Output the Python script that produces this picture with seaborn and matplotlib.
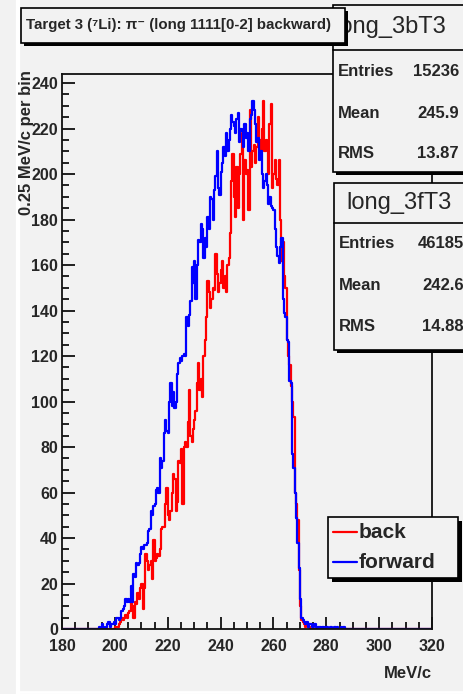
import numpy as np
import pandas as pd
import seaborn as sns
import matplotlib.pyplot as plt
from matplotlib.patches import Rectangle
from matplotlib.lines import Line2D
from matplotlib.ticker import MultipleLocator

# histogram contents, 0.5 MeV/c steps (left edges given by the start values)
fwd_start = 193.0
fwd_counts = [0, 0, 1, 0, 2, 1, 0, 1, 2, 3, 1, 2, 2, 3, 2, 5, 5, 4, 5, 8,
              9, 10, 13, 12, 13, 12, 19, 12, 24, 23, 29, 28, 29, 33, 36, 35, 37, 37, 38, 43,
              44, 52, 50, 54, 55, 61, 62, 60, 75, 71, 74, 86, 92, 87, 86, 100, 108, 98, 104, 97,
              100, 112, 117, 119, 118, 120, 121, 120, 137, 133, 138, 144, 159, 152, 162, 145, 160, 171, 170, 178,
              176, 163, 172, 168, 181, 176, 190, 189, 180, 193, 199, 210, 194, 191, 201, 205, 212, 208, 218, 210,
              215, 220, 226, 223, 221, 218, 224, 227, 214, 220, 219, 212, 222, 216, 218, 210, 224, 226, 232, 228,
              222, 214, 216, 206, 210, 200, 194, 197, 200, 195, 187, 190, 186, 185, 184, 176, 168, 164, 161, 168,
              172, 145, 139, 137, 127, 126, 109, 108, 77, 71, 60, 49, 38, 27, 13, 5, 4, 3, 2, 3,
              1, 2, 2, 1, 1, 2, 1, 0, 1, 1, 0, 1, 0, 1, 1, 0, 0, 1, 0, 0,
              1, 0, 1, 0, 0, 1, 0, 1]

back_start = 199.0
back_counts = [0, 0, 1, 1, 1, 2, 3, 5, 4, 5, 6, 5, 7, 8, 13, 10, 5, 12, 11, 16,
               13, 18, 20, 9, 18, 33, 30, 26, 28, 30, 22, 39, 30, 31, 33, 32, 35, 44, 45, 45,
               55, 62, 50, 48, 52, 60, 68, 66, 52, 56, 74, 73, 79, 55, 80, 82, 80, 91, 105, 85,
               82, 88, 92, 96, 108, 117, 105, 110, 102, 120, 127, 137, 153, 148, 141, 145, 150, 149, 165, 156,
               148, 152, 158, 162, 150, 155, 148, 160, 163, 174, 197, 209, 190, 181, 203, 185, 200, 209, 218, 180,
               206, 200, 202, 184, 228, 203, 210, 213, 205, 212, 225, 215, 210, 220, 232, 210, 215, 212, 200, 222,
               231, 194, 200, 206, 198, 195, 206, 180, 162, 170, 155, 150, 127, 120, 116, 107, 100, 93, 60, 55,
               48, 26, 10, 4, 3, 2, 1, 2, 1, 1, 0]

bin_w = 0.5
x_lo, x_hi = 180, 320
n_bins = int(round((x_hi - x_lo) / bin_w))
centers = x_lo + bin_w * (np.arange(n_bins) + 0.5)


def full_counts(start, counts):
    out = np.zeros(n_bins)
    i0 = int(round((start - x_lo) / bin_w))
    out[i0:i0 + len(counts)] = counts
    return out


df = pd.DataFrame({
    'p': np.concatenate([centers, centers]),
    'n': np.concatenate([full_counts(back_start, back_counts), full_counts(fwd_start, fwd_counts)]),
    'set': ['back'] * n_bins + ['forward'] * n_bins,
})

W, H = 463, 694
bg = '#f2f2f2'
sns.set_style('ticks')
plt.rcParams['font.family'] = ['Liberation Sans', 'DejaVu Sans']

fig = plt.figure(figsize=(W / 100, H / 100), dpi=100, facecolor=bg)


def fx(px):
    return px / W


def fy(py):
    return 1 - py / H


ax = fig.add_axes([fx(62), fy(629), (432 - 62) / W, (629 - 74) / H], facecolor=bg)

colors = {'back': 'red', 'forward': 'blue'}
for name in ['back', 'forward']:
    sns.histplot(data=df[df['set'] == name], x='p', weights='n', binwidth=bin_w,
                 binrange=(x_lo, x_hi), element='step', fill=False,
                 color=colors[name], linewidth=1.6, ax=ax)

ax.set_xlim(x_lo, x_hi)
ax.set_ylim(0, 244)
ax.set_xlabel('')
ax.set_ylabel('')
ax.xaxis.set_major_locator(MultipleLocator(20))
ax.xaxis.set_minor_locator(MultipleLocator(5))
ax.yaxis.set_major_locator(MultipleLocator(20))
ax.yaxis.set_minor_locator(MultipleLocator(5))
ax.tick_params(which='both', direction='in', top=False, right=False, width=1.3, color='#111111')
ax.tick_params(which='major', length=9, labelsize=11.5, pad=3)
ax.tick_params(which='minor', length=5)
ax.tick_params(axis='x', which='major', pad=7)
for lab in ax.get_xticklabels() + ax.get_yticklabels():
    lab.set_fontweight('bold')
for s in ax.spines.values():
    s.set_linewidth(1.3)
    s.set_color('#111111')

# axis titles (ROOT style, at the axis ends)
fig.text(fx(26), fy(70), '0.25 MeV/c per bin', rotation=90, ha='center', va='top',
         fontsize=12, fontweight='bold')
fig.text(fx(432), fy(673), 'MeV/c', ha='right', va='center', fontsize=12, fontweight='bold')

# canvas border strips
fig.add_artist(Line2D([fx(18), fx(18)], [0, 1], color='white', lw=3, transform=fig.transFigure))
fig.add_artist(Line2D([fx(18), 1], [fy(692), fy(692)], color='white', lw=2, transform=fig.transFigure))


def box(x0, y0, x1, y1, shadow=3, z=5):
    if shadow:
        fig.add_artist(Rectangle((fx(x0 + shadow), fy(y1 + shadow)), (x1 - x0) / W, (y1 - y0) / H,
                                 transform=fig.transFigure, facecolor='black', edgecolor='black',
                                 lw=0, zorder=z))
    fig.add_artist(Rectangle((fx(x0), fy(y1)), (x1 - x0) / W, (y1 - y0) / H,
                             transform=fig.transFigure, facecolor=bg, edgecolor='black',
                             lw=1.2, zorder=z + 0.1))


def stats(x0, y0, y_div, y1, name, tx, vx, rows, z):
    box(x0, y0, 470, y1, shadow=3, z=z)
    fig.add_artist(Line2D([fx(x0), 1], [fy(y_div), fy(y_div)], color='black', lw=1.2,
                          transform=fig.transFigure, zorder=z + 0.2))
    fig.text(fx(tx), fy((y0 + y_div) / 2), name, ha='left', va='center', fontsize=17, zorder=z + 0.3)
    for (lab, val), yy in zip(rows, [y_div + 21, y_div + 63, y_div + 104]):
        fig.text(fx(x0 + 5), fy(yy), lab, ha='left', va='center', fontsize=12,
                 fontweight='bold', zorder=z + 0.3)
        fig.text(fx(vx), fy(yy), val, ha='right', va='center', fontsize=12,
                 fontweight='bold', zorder=z + 0.3)


stats(333, 5, 50, 172, 'long_3bT3', 334, 459,
      [('Entries', '15236'), ('Mean', '245.9'), ('RMS', '13.87')], z=5)
stats(334, 183, 223, 350, 'long_3fT3', 346, 464,
      [('Entries', '46185'), ('Mean', '242.6'), ('RMS', '14.88')], z=6)

# title box (drawn over the first stats box)
box(21, 8, 345, 43, shadow=3, z=8)
fig.text(fx(26), fy(25.5), 'Target 3 (\u2077Li): \u03c0\u207b (long 1111[0-2] backward)',
         ha='left', va='center', fontsize=10.8, fontweight='bold', zorder=9)

# legend box
box(328, 517, 458, 578, shadow=4, z=8)
for lab, yy in [('back', 532), ('forward', 562)]:
    fig.add_artist(Line2D([fx(333), fx(357)], [fy(yy), fy(yy)], color=colors[lab], lw=1.6,
                          transform=fig.transFigure, zorder=9))
    fig.text(fx(359), fy(yy), lab, ha='left', va='center', fontsize=15,
             fontweight='bold', zorder=9)

fig.savefig('out.png', dpi=100, facecolor=bg)
